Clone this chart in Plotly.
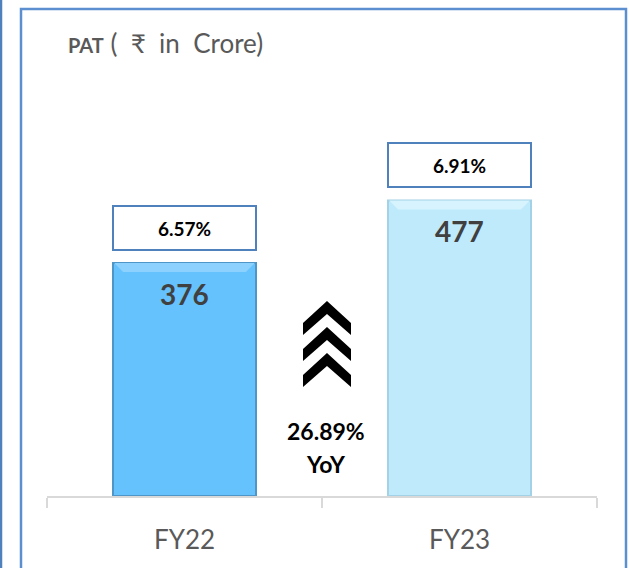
import plotly.graph_objects as go

# ---- data ----
categories = ["FY22", "FY23"]
pat_values = [376, 477]
pat_margins = ["6.57%", "6.91%"]
yoy_growth = "26.89%"
bar_colors = ["#66C2FD", "#BFEAFC"]
bar_edge_colors = ["#4F96C8", "#A3D2E6"]
bar_highlight_colors = ["#8DD2FE", "#D6F3FE"]

W, H = 629, 568
ML, MR, MT, MB = 47, 32, 100, 72
PW, PH = W - ML - MR, H - MT - MB
Y_SCALE = 0.6197  # px per unit
BAR_W = 0.52


def px(x):
    return (x - ML) / PW


def py(y):
    return (H - MB - y) / PH


FONT = "Lato, Open Sans, Noto Sans, sans-serif"

fig = go.Figure()
fig.add_trace(go.Bar(
    x=categories, y=pat_values, width=BAR_W,
    marker=dict(color=bar_colors, line=dict(color=bar_edge_colors, width=2)),
    hoverinfo="skip",
))

annotations = []
for cat, val, m in zip(categories, pat_values, pat_margins):
    annotations.append(dict(
        x=cat, y=val, xref="x", yref="y", text=f"<b>{val}</b>", showarrow=False,
        yanchor="top", yshift=-12,
        font=dict(family=FONT, size=28, color="#404040"),
    ))
    annotations.append(dict(
        x=cat, y=val, xref="x", yref="y", text=f"<b>{m}</b>", showarrow=False,
        yanchor="bottom", yshift=12, width=141, height=42, borderpad=0,
        bordercolor="#4F81BD", borderwidth=2, bgcolor="white",
        font=dict(family=FONT, size=19, color="black"),
    ))

annotations.append(dict(
    x=px(326), y=py(431), xref="paper", yref="paper", showarrow=False,
    xanchor="center", yanchor="middle",
    text="<b>" + yoy_growth + "</b>",
    font=dict(family=FONT, size=23, color="black"),
))
annotations.append(dict(
    x=px(326), y=py(464), xref="paper", yref="paper", showarrow=False,
    xanchor="center", yanchor="middle",
    text="<b>YoY</b>",
    font=dict(family=FONT, size=23, color="black"),
))
annotations.append(dict(
    x=px(66), y=py(43), xref="paper", yref="paper", showarrow=False,
    xanchor="left", yanchor="middle",
    text="<span style='font-size:20px'><b>PAT</b></span><span style='font-size:26px'> (  ₹  in  Crore)</span>",
    font=dict(family=FONT, size=26, color="#595959"),
))

shapes = []
# bevel highlights on bar tops
dx = 9 / (PW / 2)
dy = 9 / Y_SCALE
for i, (val, hc) in enumerate(zip(pat_values, bar_highlight_colors)):
    x0, x1 = i - BAR_W / 2 + 0.004, i + BAR_W / 2 - 0.004
    path = (f"M {x0},{val} L {x1},{val} L {x1 - dx},{val - dy} "
            f"L {x0 + dx},{val - dy} Z")
    shapes.append(dict(type="path", xref="x", yref="y", path=path,
                       fillcolor=hc, line=dict(width=0)))
# chevrons
for apex in [301, 327, 353]:
    cx = 327
    pts = [(cx, apex), (cx + 24, apex + 22), (cx + 24, apex + 34), (cx, apex + 13),
           (cx - 24, apex + 34), (cx - 24, apex + 22)]
    path = "M " + " L ".join(f"{px(a):.5f},{py(b):.5f}" for a, b in pts) + " Z"
    shapes.append(dict(type="path", xref="paper", yref="paper", path=path,
                       fillcolor="black", line=dict(width=0)))
# frame
shapes.append(dict(type="rect", xref="paper", yref="paper",
                   x0=px(21), x1=px(626), y0=py(590), y1=py(9),
                   line=dict(color="#5B8FD0", width=2.5), layer="below"))
shapes.append(dict(type="line", xref="paper", yref="paper",
                   x0=px(1), x1=px(1), y0=py(0), y1=py(590),
                   line=dict(color="#4F81BD", width=2.5)))

fig.update_layout(
    width=W, height=H, margin=dict(l=ML, r=MR, t=MT, b=MB),
    paper_bgcolor="white", plot_bgcolor="rgba(0,0,0,0)",
    showlegend=False, annotations=annotations, shapes=shapes,
    xaxis=dict(range=[-0.5, 1.5], showline=True, linecolor="#D9D9D9", linewidth=2,
               ticks="outside", tickson="boundaries", ticklen=10, tickwidth=2,
               tickcolor="#D9D9D9", showgrid=False, ticklabelstandoff=20,
               tickfont=dict(family=FONT, size=26, color="#595959")),
    yaxis=dict(range=[0, PH / Y_SCALE], visible=False, showgrid=False),
)

fig.write_html(
    "out.html",
    config={"displayModeBar": False},
    post_script="document.body.style.margin='0';document.body.style.overflow='hidden';",
)
